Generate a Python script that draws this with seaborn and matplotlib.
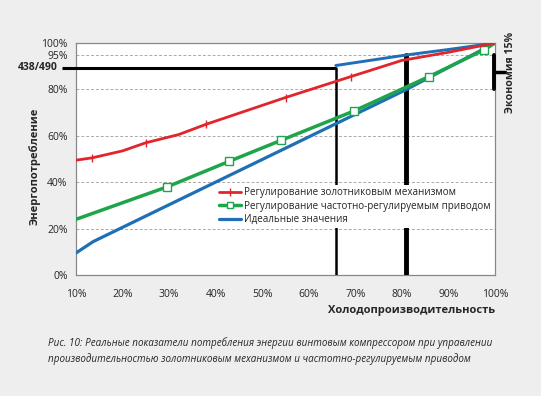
import numpy as np
import pandas as pd
import matplotlib
matplotlib.use('Agg')
import matplotlib.pyplot as plt
import seaborn as sns
from matplotlib.lines import Line2D

# --- data ---
red_x = [10, 13.5, 20, 25, 32, 38, 55, 69, 80, 90, 100]
red_y = [49.5, 50.5, 53.5, 57, 60.5, 65, 76.5, 85.5, 92.5, 96, 100]
red_marks = [1, 3, 5, 6, 7]

green_x = [10, 29.6, 42.9, 54, 69.7, 85.8, 97.6, 100]
green_y = [24, 38, 49, 58, 70.7, 85.5, 97, 100]

blue_x = [10, 13.7, 49.5, 80.8, 100]
blue_y = [9.5, 14.4, 49.3, 79.8, 100]
blue_top_x = [65.8, 80.8, 90, 100]
blue_top_y = [90.3, 94.8, 97.2, 100]

ref_level = 438 / 490 * 100      # 438/490 level
ref_x = [65.8, 80.8]            # the two operating points
ref_top = [ref_level, 95]
save_band = [80, 95]            # "Экономия 15%"

yticks = [0, 20, 40, 60, 80, 95, 100]
xticks = [10, 20, 30, 40, 50, 60, 70, 80, 90, 100]

labels = ['Регулирование золотниковым механизмом',
          'Регулирование частотно-регулируемым приводом',
          'Идеальные значения']
RED, GREEN, BLUE = '#e2242b', '#1ea54c', '#1f6fb6'

sns.set_theme(style='white')
plt.rcParams['font.family'] = ['Open Sans', 'DejaVu Sans']

fig = plt.figure(figsize=(5.41, 3.96), dpi=100, facecolor='#eeeeee')
ax = fig.add_axes([0.1405, 0.3056, 0.7745, 0.5858])
ax.set_facecolor('white')

# reference lines
ax.plot([7.0, ref_x[0]], [ref_level, ref_level], color='black', lw=2.2,
        solid_capstyle='butt', clip_on=False, zorder=3)
ax.plot([ref_x[0], ref_x[0]], [0, ref_top[0]], color='black', lw=1.8, zorder=3)
ax.plot([ref_x[1], ref_x[1]], [0, ref_top[1]], color='black', lw=3.5, zorder=3)
ax.plot([99.8, 99.8], save_band, color='black', lw=2.8, clip_on=False, zorder=6)
ax.plot([99.8, 102.2], [np.mean(save_band)] * 2, color='black', lw=2.5,
        clip_on=False, zorder=6)

df_b = pd.DataFrame({'x': blue_x, 'y': blue_y})
df_bt = pd.DataFrame({'x': blue_top_x, 'y': blue_top_y})
df_g = pd.DataFrame({'x': green_x, 'y': green_y})
df_r = pd.DataFrame({'x': red_x, 'y': red_y})

sns.lineplot(data=df_b, x='x', y='y', ax=ax, color=BLUE, lw=2.3, sort=False,
             estimator=None, zorder=4)
sns.lineplot(data=df_bt, x='x', y='y', ax=ax, color=BLUE, lw=2.1, sort=False,
             estimator=None, zorder=4)
sns.lineplot(data=df_g, x='x', y='y', ax=ax, color=GREEN, lw=2.5, sort=False,
             estimator=None, zorder=5, marker='s', ms=6, mfc='white', mec=GREEN,
             mew=1.0, markevery=list(range(1, len(green_x) - 1)))
sns.lineplot(data=df_r, x='x', y='y', ax=ax, color=RED, lw=2.0, sort=False,
             estimator=None, zorder=5, marker='|', ms=6, mew=1.0, mec=RED,
             markevery=red_marks)

ax.set_xlim(10, 100)
ax.set_ylim(0, 100)
ax.set_xticks(xticks)
ax.set_xticklabels([f'{v}%' for v in xticks], fontsize=7.5)
ax.set_yticks(yticks)
ax.set_yticklabels([f'{v}%' for v in yticks], fontsize=7.5)
ax.tick_params(axis='both', direction='out', length=4, width=0.8, color='#666666',
               pad=2)
ax.tick_params(axis='x', pad=6)
for v in yticks[1:-1]:
    ax.axhline(v, color='#aaaaaa', lw=0.7, ls=(0, (3, 2)), zorder=1)
for s in ax.spines.values():
    s.set_color('#888888')
    s.set_linewidth(0.9)

ax.set_xlabel('Холодопроизводительность', fontsize=8, fontweight='bold',
              loc='right', labelpad=4)
ax.set_ylabel('Энергопотребление', fontsize=8, fontweight='bold', labelpad=3)
ax.yaxis.set_label_coords(-0.085, 0.47)

ax.text(-0.043, ref_level, '438/490', transform=ax.get_yaxis_transform(),
        ha='right', va='center', fontsize=7.5, fontweight='bold')
fig.text(0.944, 0.818, 'Экономия 15%', rotation=90, ha='center', va='center',
         fontsize=7.6, fontweight='bold')

handles = [Line2D([], [], color=RED, lw=2.0, marker='|', ms=6),
           Line2D([], [], color=GREEN, lw=2.5, marker='s', ms=5, mfc='white', mec=GREEN),
           Line2D([], [], color=BLUE, lw=2.3)]
leg = ax.legend(handles, labels, loc='upper left', bbox_to_anchor=(0.335, 0.39),
                fontsize=7.1, frameon=True, facecolor='white', edgecolor='none',
                framealpha=1, handlelength=2.2, handletextpad=0.3,
                labelspacing=0.25, borderpad=0.3, borderaxespad=0, fancybox=False)
leg.set_zorder(7)

fig.text(0.089, 0.114, 'Рис. 10: Реальные показатели потребления энергии винтовым компрессором при управлении\n'
         'производительностью золотниковым механизмом и частотно-регулируемым приводом',
         fontsize=7.1, style='italic', ha='left', va='center', linespacing=1.5)

fig.savefig('out.png', dpi=100, facecolor=fig.get_facecolor())
